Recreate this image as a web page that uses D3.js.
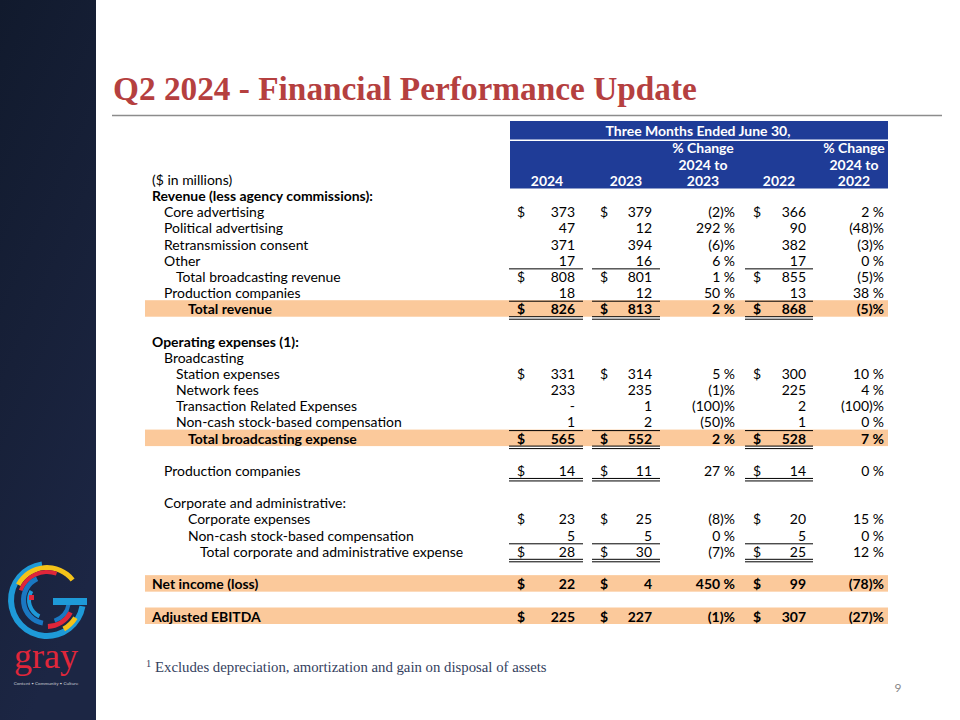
<!DOCTYPE html>
<html><head><meta charset="utf-8">
<script src="https://cdn.jsdelivr.net/npm/d3@7"></script>
<style>html,body{margin:0;padding:0;background:#fff}</style>
</head><body><svg id="c" width="960" height="720"></svg>
<script>
// ---------------- DATA ----------------
const title = "Q2 2024 - Financial Performance Update";
const headerTop = "Three Months Ended June 30,";
const columnHeaders = [["2024"], ["2023"], ["% Change", "2024 to", "2023"], ["2022"], ["% Change", "2024 to", "2022"]];
const unitsLabel = "($ in millions)";
const rowLabels = [
  "Revenue (less agency commissions):",
  "Core advertising",
  "Political advertising",
  "Retransmission consent",
  "Other",
  "Total broadcasting revenue",
  "Production companies",
  "Total revenue",
  "",
  "Operating expenses (1):",
  "Broadcasting",
  "Station expenses",
  "Network fees",
  "Transaction Related Expenses",
  "Non-cash stock-based compensation",
  "Total broadcasting expense",
  "",
  "Production companies",
  "",
  "Corporate and administrative:",
  "Corporate expenses",
  "Non-cash stock-based compensation",
  "Total corporate and administrative expense",
  "",
  "Net income (loss)",
  "",
  "Adjusted EBITDA"
];
const values2024 = [null, 373, 47, 371, 17, 808, 18, 826, null, null, null, 331, 233, 0, 1, 565, null, 14, null, null, 23, 5, 28, null, 22, null, 225];
const values2023 = [null, 379, 12, 394, 16, 801, 12, 813, null, null, null, 314, 235, 1, 2, 552, null, 11, null, null, 25, 5, 30, null, 4, null, 227];
const change2023 = [null, -2, 292, -6, 6, 1, 50, 2, null, null, null, 5, -1, -100, -50, 2, null, 27, null, null, -8, 0, -7, null, 450, null, -1];
const values2022 = [null, 366, 90, 382, 17, 855, 13, 868, null, null, null, 300, 225, 2, 1, 528, null, 14, null, null, 20, 5, 25, null, 99, null, 307];
const change2022 = [null, 2, -48, -3, 0, -5, 38, -5, null, null, null, 10, 4, -100, 0, 7, null, 0, null, null, 15, 0, 12, null, -78, null, -27];
const dollarRows = [1, 5, 7, 11, 15, 17, 20, 22, 24, 26];
const footnoteMark = "1";
const footnote = "Excludes depreciation, amortization and gain on disposal of assets";
const pageNumber = "9";
const logoWord = "gray";
const logoTagline = "Content \u2022 Community \u2022 Culture";

// ---------------- LAYOUT / STYLE ----------------
const rowIndent = [0,1,1,1,1,2,1,3,0,0,1,2,2,2,2,3,0,1,0,1,3,3,4,0,0,0,0];
const boldRows = [0, 7, 9, 15, 24, 26];
const highlightRows = [7, 15, 24, 26];
const singleAboveRows = [5, 7, 15, 22];
const doubleBelowRows = [7, 15, 17, 22];

const BLUE = "#1f3c97", ORANGE = "#fbc99b", TITLE_RED = "#b5403f";
const FONT = "Lato, 'Open Sans', sans-serif";
const SERIF = "'Liberation Serif', 'DejaVu Serif', serif";

const svg = d3.select("#c");
function measure(txt, family, size, weight) {
  const t = svg.append("text").attr("font-family", family).attr("font-size", size).attr("font-weight", weight).text(txt);
  const w = t.node().getComputedTextLength(); t.remove(); return w;
}
const bodySize = 13 * 226 / measure("Non-cash stock-based compensation", FONT, 13, 400);

// sidebar
const defs = svg.append("defs");
const g1 = defs.append("linearGradient").attr("id", "side").attr("x1", 0).attr("y1", 0).attr("x2", 0.3).attr("y2", 1);
g1.append("stop").attr("offset", 0).attr("stop-color", "#111a2d");
g1.append("stop").attr("offset", 0.5).attr("stop-color", "#172038");
g1.append("stop").attr("offset", 1).attr("stop-color", "#1c2644");
svg.append("rect").attr("x", 0).attr("y", 0).attr("width", 96).attr("height", 720).attr("fill", "url(#side)");

// logo
const logo = svg.append("g").attr("transform", "translate(47,600)");
const deg = Math.PI / 180;
const arcGen = d3.arc();
const logoArcs = [
  {r0: 33, r1: 39, a0: 100, a1: 352, c: "#1e9ad8"},
  {r0: 30, r1: 35, a0: -62, a1: 52, c: "#f4c319"},
  {r0: 26, r1: 30, a0: -70, a1: 20, c: "#e0263a"},
  {r0: 21, r1: 26, a0: 190, a1: 335, c: "#1a78c2"},
  {r0: 16, r1: 20, a0: 205, a1: 300, c: "#1e9ad8"},
  {r0: 24, r1: 29, a0: 118, a1: 178, c: "#e0263a"},
  {r0: 31, r1: 36, a0: 122, a1: 150, c: "#f4c319"},
  {r0: 20, r1: 24, a0: 100, a1: 160, c: "#1a78c2"}
];
logo.selectAll("path").data(logoArcs).join("path")
  .attr("d", d => arcGen({innerRadius: d.r0, outerRadius: d.r1, startAngle: d.a0 * deg, endAngle: d.a1 * deg}))
  .attr("fill", d => d.c);
logo.append("rect").attr("x", 6).attr("y", -2).attr("width", 34).attr("height", 7).attr("fill", "#1e9ad8");
logo.append("rect").attr("x", -18).attr("y", -5).attr("width", 5).attr("height", 5).attr("fill", "#e0263a");
svg.append("text").attr("x", 46).attr("y", 668).attr("text-anchor", "middle")
  .attr("font-family", SERIF).attr("font-size", 36).attr("fill", "#e0263a").text(logoWord);
svg.append("text").attr("x", 46).attr("y", 685).attr("text-anchor", "middle")
  .attr("font-family", FONT).attr("font-size", 4.6).attr("fill", "#c9ccd4").text(logoTagline);

// title
const titleSize = 30 * 584 / measure(title, SERIF, 30, 700);
svg.append("text").attr("x", 113).attr("y", 100).attr("font-family", SERIF).attr("font-weight", 700)
  .attr("font-size", titleSize).attr("fill", TITLE_RED).text(title);
svg.append("line").attr("x1", 112).attr("x2", 942).attr("y1", 115.5).attr("y2", 115.5)
  .attr("stroke", "#8c8c8c").attr("stroke-width", 1.3);

// scales
const y = d3.scaleLinear().domain([0, 26]).range([195.5, 616]);
const colKeys = ["v24", "v23", "c23", "v22", "c22"];
const colRight = d3.scaleOrdinal().domain(colKeys).range([575, 652, 735, 806, 884]);
const colDollar = d3.scaleOrdinal().domain(["v24", "v23", "v22"]).range([517, 600, 753]);
const colCenter = d3.scaleOrdinal().domain(colKeys).range([547, 626, 703, 779, 854]);
const colLine = d3.scaleOrdinal().domain(["v24", "v23", "v22"]).range([[509, 583], [592, 660], [745, 813]]);
const labelX = d3.scaleLinear().domain([0, 4]).range([152, 200]);

// highlight bands
svg.selectAll("rect.hl").data(highlightRows).join("rect").attr("class", "hl")
  .attr("x", 145).attr("width", 743).attr("y", d => y(d) - 8.5).attr("height", 16.5).attr("fill", ORANGE);

// header band
svg.append("rect").attr("x", 510).attr("y", 121).attr("width", 378).attr("height", 18.5).attr("fill", BLUE);
svg.append("rect").attr("x", 510).attr("y", 141).attr("width", 378).attr("height", 47.5).attr("fill", BLUE);
svg.append("text").attr("x", 698).attr("y", 130.5).attr("dominant-baseline", "central").attr("text-anchor", "middle")
  .attr("font-family", FONT).attr("font-weight", 700).attr("font-size", bodySize).attr("fill", "#fff").text(headerTop);
colKeys.forEach((k, i) => {
  const lines = columnHeaders[i];
  svg.selectAll(null).data(lines).join("text")
    .attr("x", colCenter(k)).attr("y", (d, j) => y(j - lines.length) + 1)
    .attr("dominant-baseline", "central").attr("text-anchor", "middle")
    .attr("font-family", FONT).attr("font-weight", 700).attr("font-size", bodySize).attr("fill", "#fff").text(d => d);
});
svg.append("text").attr("x", 152).attr("y", y(-1)).attr("dominant-baseline", "central")
  .attr("font-family", FONT).attr("font-size", bodySize).attr("fill", "#000").text(unitsLabel);

// row labels
const rows = rowLabels.map((l, i) => ({i, label: l}));
svg.selectAll("text.lbl").data(rows.filter(d => d.label)).join("text").attr("class", "lbl")
  .attr("x", d => labelX(rowIndent[d.i])).attr("y", d => y(d.i)).attr("dominant-baseline", "central")
  .attr("font-family", FONT).attr("font-size", bodySize)
  .attr("font-weight", d => boldRows.includes(d.i) ? 700 : 400).attr("fill", "#000").text(d => d.label);

// values
const series = {v24: values2024, v23: values2023, c23: change2023, v22: values2022, c22: change2022};
const fmtVal = v => v === 0 ? "-" : d3.format(",")(v);
const fmtPct = v => v < 0 ? "(" + Math.abs(v) + ")%" : v + " %";
colKeys.forEach(k => {
  const isPct = k[0] === "c";
  const cells = series[k].map((v, i) => ({i, v})).filter(d => d.v !== null);
  svg.selectAll(null).data(cells).join("text")
    .attr("x", colRight(k)).attr("y", d => y(d.i)).attr("dominant-baseline", "central").attr("text-anchor", "end")
    .attr("font-family", FONT).attr("font-size", bodySize)
    .attr("font-weight", d => boldRows.includes(d.i) ? 700 : 400).attr("fill", "#000")
    .text(d => isPct ? fmtPct(d.v) : fmtVal(d.v));
  if (!isPct) {
    svg.selectAll(null).data(cells.filter(d => dollarRows.includes(d.i))).join("text")
      .attr("x", colDollar(k)).attr("y", d => y(d.i)).attr("dominant-baseline", "central")
      .attr("font-family", FONT).attr("font-size", bodySize)
      .attr("font-weight", d => boldRows.includes(d.i) ? 700 : 400).attr("fill", "#000").text("$");
    const [x1, x2] = colLine(k);
    svg.selectAll(null).data(singleAboveRows).join("line")
      .attr("x1", x1).attr("x2", x2).attr("y1", d => y(d) - 7.5).attr("y2", d => y(d) - 7.5)
      .attr("stroke", "#000").attr("stroke-width", 1);
    [8, 10.5].forEach(off => {
      svg.selectAll(null).data(doubleBelowRows).join("line")
        .attr("x1", x1).attr("x2", x2).attr("y1", d => y(d) + off).attr("y2", d => y(d) + off)
        .attr("stroke", "#000").attr("stroke-width", 1);
    });
  }
});

// footnote
const fnSize = 12 * 392 / measure(footnote, SERIF, 12, 400);
svg.append("text").attr("x", 146).attr("y", 667).attr("font-family", SERIF).attr("font-size", fnSize * 0.7)
  .attr("fill", "#34415e").text(footnoteMark);
svg.append("text").attr("x", 155).attr("y", 672).attr("font-family", SERIF).attr("font-size", fnSize)
  .attr("fill", "#34415e").text(footnote);
svg.append("text").attr("x", 898).attr("y", 692).attr("text-anchor", "middle").attr("font-family", FONT)
  .attr("font-size", 12).attr("fill", "#8a8a8a").text(pageNumber);
</script></body></html>
